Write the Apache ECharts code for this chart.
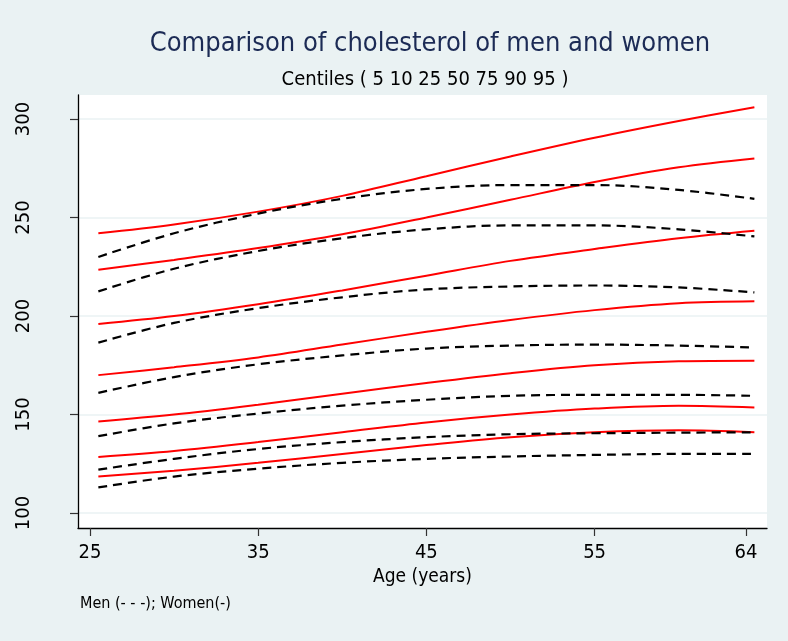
<!DOCTYPE html>
<html>
<head>
<meta charset="utf-8">
<script src="https://cdn.jsdelivr.net/npm/echarts@6/dist/echarts.min.js"></script>
<style>
  html, body { margin: 0; padding: 0; background: #eaf2f3; }
  #chart { width: 788px; height: 641px; }
</style>
</head>
<body>
<div id="chart"></div>
<script>
var ages = [25.5, 30, 35, 40, 45, 50, 55, 60, 64.5];

// women (solid red), centiles 5..95
var women5  = [118.5, 121.5, 125.5, 130, 134.5, 138.5, 141, 142, 141];
var women10 = [128.5, 131.5, 136, 141, 146, 150, 153, 154.5, 153.6];
var women25 = [146.5, 150, 155, 160.5, 166, 171, 175, 177, 177.3];
var women50 = [170, 174, 179, 185.5, 192, 198, 203, 206.5, 207.5];
var women75 = [196, 200, 206, 213, 220.5, 228, 234, 239.5, 243.3];
var women90 = [223.5, 228.5, 234.5, 241.5, 250, 259, 268, 275.5, 280];
var women95 = [242, 246.5, 253, 261, 271, 281, 290.5, 299, 306];

// men (black dashed), centiles 5..95
var men5  = [113, 118.5, 122.5, 125.5, 127.5, 128.7, 129.5, 130, 130];
var men10 = [122, 127.5, 132.5, 136, 138.5, 140, 140.5, 140.8, 141];
var men25 = [139, 145.5, 150.5, 154.5, 157.5, 159.5, 160, 160, 159.5];
var men50 = [161, 169, 175.5, 180, 183.5, 185, 185.5, 185, 184];
var men75 = [186.5, 196.5, 204, 209.5, 213.5, 215, 215.5, 214.5, 212];
var men90 = [212.5, 224, 233, 239.5, 244, 246, 246, 244, 240.4];
var men95 = [230, 242, 252, 259.5, 264.5, 266.5, 266.5, 264, 259.5];

var xTicks = [25, 35, 45, 55, 64];
var yTicks = [100, 150, 200, 250, 300];

var womenLines = [women5, women10, women25, women50, women75, women90, women95];
var menLines = [men5, men10, men25, men50, men75, men90, men95];
var centiles = [5, 10, 25, 50, 75, 90, 95];

var font = "'DejaVu Sans Condensed', 'Liberation Sans Narrow', 'Liberation Sans', Arial, sans-serif";

function pairs(vals) {
  return ages.map(function (a, i) { return [a, vals[i]]; });
}

var series = [];
womenLines.forEach(function (vals, i) {
  series.push({
    name: "Women " + centiles[i],
    type: "line",
    data: pairs(vals),
    smooth: 0.35,
    showSymbol: false,
    lineStyle: { color: "#ff0000", width: 2 }
  });
});
menLines.forEach(function (vals, i) {
  series.push({
    name: "Men " + centiles[i],
    type: "line",
    data: pairs(vals),
    smooth: 0.35,
    showSymbol: false,
    lineStyle: { color: "#000000", width: 2.2, type: [9, 6] }
  });
});

var myChart = echarts.init(document.getElementById("chart"));
myChart.setOption({
  backgroundColor: "#eaf2f3",
  animation: false,
  textStyle: { fontFamily: font },
  title: [
    {
      text: "Comparison of cholesterol of men and women",
      left: 425,
      textAlign: "center",
      top: 25,
      textStyle: { fontFamily: font, fontSize: 27, fontWeight: "normal", color: "#1c2b55" }
    },
    {
      text: "Centiles ( 5 10 25 50 75 90 95 )",
      left: 420,
      textAlign: "center",
      top: 65,
      textStyle: { fontFamily: font, fontSize: 20, fontWeight: "normal", color: "#000" }
    }
  ],
  graphic: [
    {
      type: "text",
      left: 80,
      top: 596,
      style: { text: "Men (- - -); Women(-)", font: "16px " + font, fill: "#000" }
    }
  ],
  grid: {
    left: 78,
    right: 21,
    top: 95,
    bottom: 113,
    show: true,
    backgroundColor: "#ffffff",
    borderWidth: 0
  },
  xAxis: {
    type: "value",
    min: 24.29,
    max: 65.25,
    name: "Age (years)",
    nameLocation: "middle",
    nameGap: 39,
    nameTextStyle: { fontFamily: font, fontSize: 19, color: "#000" },
    axisLine: { show: true, onZero: false, lineStyle: { color: "#000", width: 1.3 } },
    axisTick: { show: true, length: 8, customValues: xTicks, lineStyle: { color: "#333", width: 1.2 } },
    axisLabel: { customValues: xTicks, margin: 15, fontFamily: font, fontSize: 20, color: "#000" },
    splitLine: { show: false }
  },
  yAxis: {
    type: "value",
    min: 92.4,
    max: 312.2,
    axisLine: { show: true, onZero: false, lineStyle: { color: "#000", width: 1.3 } },
    axisTick: { show: true, length: 8, customValues: yTicks, lineStyle: { color: "#333", width: 1.2 } },
    axisLabel: { customValues: yTicks, rotate: 90, margin: 44, fontFamily: font, fontSize: 20, color: "#000" },
    splitLine: { show: true, lineStyle: { color: "#eaf2f3", width: 1.5 } }
  },
  series: series
});
</script>
</body>
</html>
